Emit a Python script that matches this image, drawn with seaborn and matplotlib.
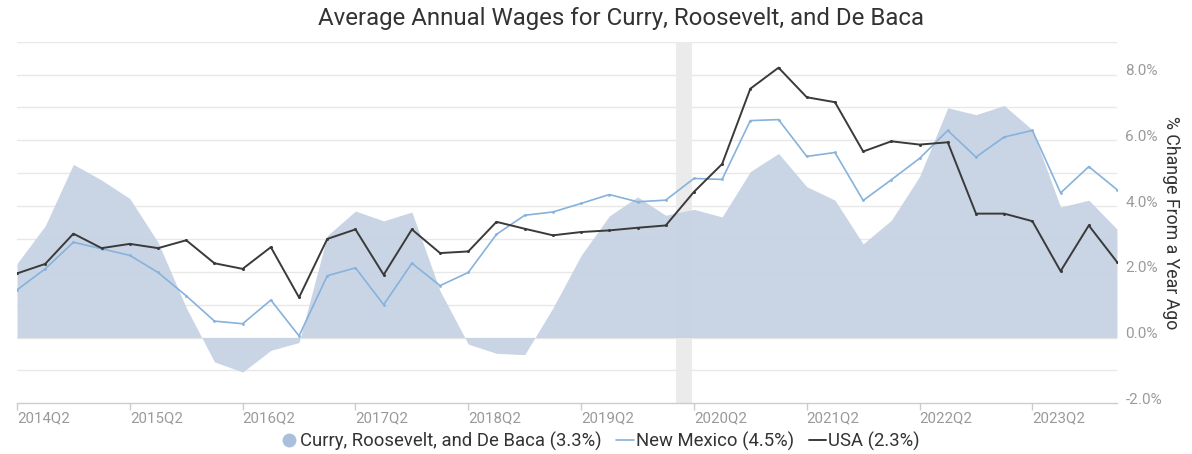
import numpy as np
import pandas as pd
import matplotlib
matplotlib.use("Agg")
import matplotlib.pyplot as plt
import matplotlib.transforms as mtransforms
from matplotlib.lines import Line2D
import seaborn as sns

# Quarterly periods shown on the x axis
quarters = [str(p) for p in pd.period_range("2014Q2", "2024Q1", freq="Q")]

# Year-over-year % change in average annual wages
county = [2.25, 3.4, 5.27, 4.79, 4.23, 2.9, 0.91, -0.74, -1.05, -0.39,
          -0.15, 3.1, 3.85, 3.55, 3.82, 1.42, -0.2, -0.48, -0.52, 0.9,
          2.5, 3.7, 4.28, 3.72, 3.9, 3.67, 5.05, 5.6, 4.59, 4.18,
          2.85, 3.57, 4.9, 6.99, 6.78, 7.06, 6.32, 3.97, 4.18, 3.3]
new_mexico = [1.45, 2.09, 2.9, 2.7, 2.5, 1.98, 1.27, 0.5, 0.42, 1.14,
              0.05, 1.88, 2.12, 1.0, 2.26, 1.58, 1.98, 3.14, 3.72, 3.82,
              4.08, 4.35, 4.13, 4.18, 4.84, 4.81, 6.6, 6.63, 5.51, 5.63,
              4.17, 4.8, 5.45, 6.3, 5.49, 6.1, 6.3, 4.4, 5.2, 4.5]
usa = [1.95, 2.24, 3.16, 2.72, 2.85, 2.72, 2.96, 2.26, 2.09, 2.75,
       1.22, 3.0, 3.29, 1.91, 3.29, 2.57, 2.62, 3.52, 3.31, 3.11,
       3.21, 3.26, 3.34, 3.41, 4.43, 5.28, 7.57, 8.21, 7.31, 7.16,
       5.66, 5.97, 5.87, 5.94, 3.77, 3.77, 3.54, 2.02, 3.41, 2.3]

series_names = ["Curry, Roosevelt, and De Baca", "New Mexico", "USA"]

# Recession shading (in quarter-index units)
recession = (23.37, 23.94)

AREA = "#c5d2e3"
NM_BLUE = "#86b2dc"
USA_DARK = "#3a3a3a"
GRID = "#e8e8e8"
TICK_TXT = "#9a9a9a"
TXT = "#333333"

sns.set_theme(style="white")
plt.rcParams["font.family"] = ["Roboto", "DejaVu Sans"]

W, H = 1192, 454
fig = plt.figure(figsize=(W / 100, H / 100), dpi=100)
left_px, right_px, top_px, bot_px = 17, 1117, 41.7, 403.3
ax = fig.add_axes([left_px / W, 1 - bot_px / H,
                   (right_px - left_px) / W, (bot_px - top_px) / H])

x = np.arange(len(quarters))
df = pd.DataFrame({"x": x, "county": county, "nm": new_mexico, "usa": usa})

ax.set_xlim(0, len(quarters) - 1)
ax.set_ylim(-2, 9)

# horizontal grid every 1%
for g in range(-1, 10):
    ax.axhline(g, color=GRID, lw=1, zorder=0)

ax.axvspan(*recession, color="#ebebeb", lw=0, zorder=0.5)

ax.fill_between(df["x"], 0, df["county"], color=AREA, lw=0, alpha=0.92, zorder=1)

sns.lineplot(data=df, x="x", y="nm", ax=ax, color=NM_BLUE, lw=1.2,
             marker="o", markersize=2, markeredgewidth=0, zorder=2)
sns.lineplot(data=df, x="x", y="usa", ax=ax, color=USA_DARK, lw=1.4,
             marker="o", markersize=2.2, markeredgewidth=0, zorder=3)

for s in ["top", "left", "right"]:
    ax.spines[s].set_visible(False)
ax.spines["bottom"].set_color("#cccccc")
ax.spines["bottom"].set_linewidth(1)

# x axis: every 4th quarter, labels left-aligned at the tick
tick_idx = list(range(0, len(quarters), 4))
ax.set_xticks(tick_idx)
ax.set_xticklabels([quarters[i] for i in tick_idx], fontsize=10.8, color=TICK_TXT)
for lab in ax.get_xticklabels():
    lab.set_horizontalalignment("left")
ax.tick_params(axis="x", length=5, width=1, color="#cccccc", pad=0.5, bottom=True)
ax.set_xlabel("")

# right-hand y axis
ax.yaxis.tick_right()
ax.yaxis.set_label_position("right")
yt = [-2, 0, 2, 4, 6, 8]
ax.set_yticks(yt)
ax.set_yticklabels([f"{v:.1f}%" for v in yt], fontsize=11, color=TICK_TXT)
ax.tick_params(axis="y", length=0, pad=6)
shift = mtransforms.ScaledTranslation(0, 5 / 100, fig.dpi_scale_trans)
for lab in ax.get_yticklabels():
    lab.set_transform(lab.get_transform() + shift)
ax.set_ylabel("% Change From a Year Ago", rotation=270, fontsize=12.8,
              color=TXT, labelpad=13)
ax.grid(False)

fig.text(621 / W, 1 - 18 / H,
         "Average Annual Wages for Curry, Roosevelt, and De Baca",
         ha="center", va="center", fontsize=17.3, color=TXT)

handles = [
    Line2D([], [], ls="none", marker="o", markersize=10, color="#a9bfdb",
           markeredgewidth=0),
    Line2D([], [], color=NM_BLUE, lw=1.2),
    Line2D([], [], color=USA_DARK, lw=1.4),
]
labels = [f"{series_names[0]} ({county[-1]:.1f}%)",
          f"{series_names[1]} ({new_mexico[-1]:.1f}%)",
          f"{series_names[2]} ({usa[-1]:.1f}%)"]
fig.legend(handles, labels, loc="center", bbox_to_anchor=(600 / W, 1 - 441.5 / H),
           ncol=3, frameon=False, fontsize=13.3, handlelength=0.95,
           handletextpad=0.12, columnspacing=0.8, labelcolor=TXT)

fig.savefig("out.png", dpi=100)
